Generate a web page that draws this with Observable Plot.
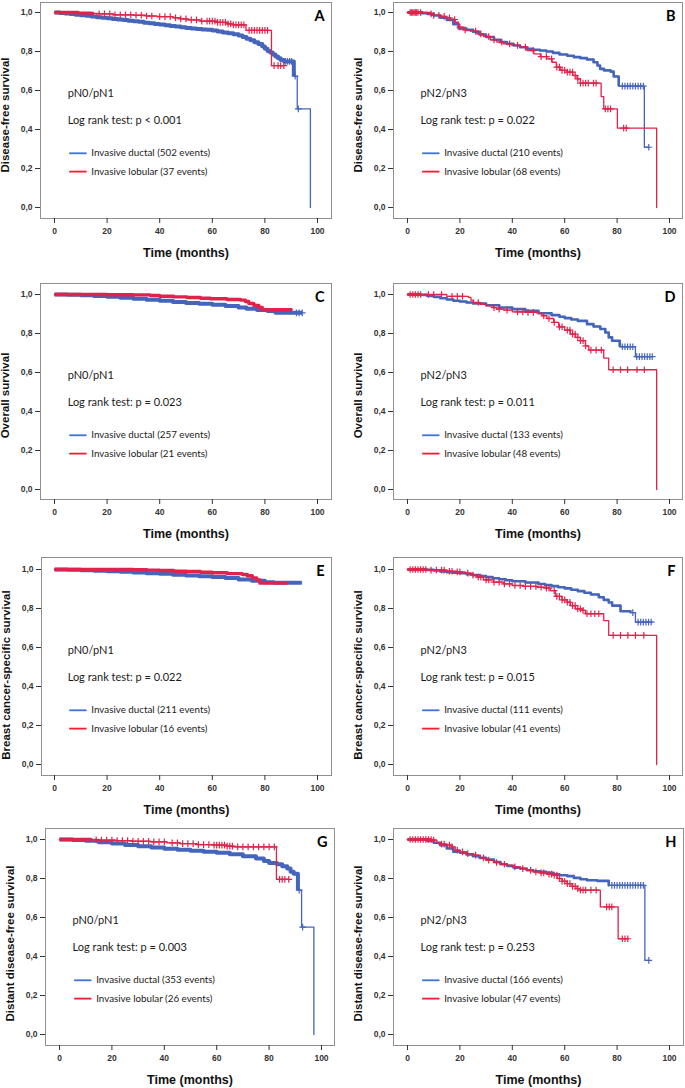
<!DOCTYPE html>
<html><head><meta charset="utf-8">
<script src="https://cdn.jsdelivr.net/npm/d3@7"></script>
<script src="https://cdn.jsdelivr.net/npm/@observablehq/plot@0.6"></script>
<style>
html,body{margin:0;padding:0;background:#fff;}
#page{position:relative;width:685px;height:1088px;overflow:hidden;background:#fff;}
.panel{position:absolute;}
.panel svg{display:block;overflow:visible;}
</style></head><body><div id="page"></div>
<script>
// ---------- texts ----------
const xTicks = [0, 20, 40, 60, 80, 100];
const yTicks = [0, 0.2, 0.4, 0.6, 0.8, 1.0];
const yTickLabels = ["0,0", "0,2", "0,4", "0,6", "0,8", "1,0"];
const xTitle = "Time (months)";
const panelLetters = ["A", "B", "C", "D", "E", "F", "G", "H"];
const yTitles = ["Disease-free survival", "Disease-free survival", "Overall survival", "Overall survival",
  "Breast cancer-specific survival", "Breast cancer-specific survival",
  "Distant disease-free survival", "Distant disease-free survival"];
const nodeGroups = ["pN0/pN1", "pN2/pN3", "pN0/pN1", "pN2/pN3", "pN0/pN1", "pN2/pN3", "pN0/pN1", "pN2/pN3"];
const logRankTexts = ["Log rank test: p < 0.001", "Log rank test: p = 0.022", "Log rank test: p = 0.023",
  "Log rank test: p = 0.011", "Log rank test: p = 0.022", "Log rank test: p = 0.015",
  "Log rank test: p = 0.003", "Log rank test: p = 0.253"];
const seriesNames = ["Invasive ductal", "Invasive lobular"];
const ductalEvents = [502, 210, 257, 133, 211, 111, 353, 166];
const lobularEvents = [37, 68, 21, 48, 16, 41, 26, 47];

// ---------- Kaplan-Meier steps: [time (months), survival] ----------
const ductalA = [[0,1],[2,0.998],[4,0.995],[6,0.992],[8,0.989],[10,0.986],[12,0.983],[14,0.979],[16,0.976],[18,0.973],[20,0.970],[22,0.967],[24,0.964],[26,0.961],[28,0.958],[30,0.955],[32,0.952],[34,0.948],[36,0.945],[38,0.941],[40,0.938],[42,0.935],[44,0.931],[46,0.928],[48,0.925],[50,0.921],[52,0.918],[54,0.916],[56,0.913],[58,0.911],[60,0.908],[62,0.903],[64,0.898],[66,0.893],[68,0.888],[70,0.882],[71.5,0.875],[73,0.866],[74.5,0.858],[76,0.848],[77.5,0.838],[79,0.826],[80,0.814],[81,0.803],[82,0.795],[83,0.785],[84,0.775],[85,0.765],[86,0.757],[87.3,0.749],[91,0.673],[92.3,0.506],[97.3,0]];
const lobularA = [[0,1],[9,0.997],[14,0.995],[17,0.993],[22.5,0.988],[30,0.986],[35,0.982],[39,0.979],[45,0.973],[48,0.967],[50.4,0.962],[55.5,0.956],[61.8,0.949],[65.6,0.942],[68,0.937],[72.8,0.908],[82.5,0.728],[87.2,0.728]];
const ductalB = [[0,1],[5,0.997],[7.5,0.993],[10,0.985],[12.5,0.973],[15,0.962],[17.5,0.94],[19.5,0.918],[22.5,0.911],[25,0.901],[27.5,0.887],[30,0.874],[33,0.86],[35.5,0.848],[38,0.839],[40.5,0.831],[43,0.822],[45.5,0.814],[48,0.809],[50.5,0.805],[53,0.8],[55.5,0.793],[58,0.785],[61,0.778],[63.5,0.771],[66,0.766],[68.5,0.759],[71,0.745],[72.5,0.728],[73.5,0.711],[75,0.703],[77.5,0.697],[78.7,0.672],[80.6,0.622],[90.4,0.309],[92.1,0.309]];
const lobularB = [[0,1],[8.7,0.993],[10,0.985],[12.5,0.98],[14.8,0.973],[16.3,0.964],[18.2,0.95],[19.5,0.925],[21.4,0.911],[24,0.904],[26.5,0.89],[29,0.877],[31.6,0.86],[34.1,0.848],[36.7,0.839],[39.9,0.831],[43,0.822],[45.6,0.805],[48.2,0.788],[50.7,0.774],[53.2,0.762],[55.2,0.745],[56.8,0.72],[58.3,0.703],[60.9,0.694],[63.1,0.677],[64.7,0.66],[66,0.638],[73.9,0.569],[74.9,0.506],[80.1,0.407],[95.1,0]];
const ductalC = [[0,1],[5,0.999],[10,0.996],[15,0.992],[20,0.988],[25,0.983],[30,0.978],[35,0.973],[40,0.968],[45,0.962],[50,0.957],[55,0.952],[60,0.947],[65,0.941],[70,0.933],[73,0.927],[77,0.92],[81,0.915],[84,0.906],[94.2,0.906]];
const lobularC = [[0,1],[20,0.999],[30,0.998],[36.4,0.995],[40,0.991],[45.3,0.988],[50.4,0.985],[55.5,0.981],[59.3,0.978],[65.6,0.974],[70.7,0.971],[72.6,0.964],[73.9,0.954],[75.8,0.944],[77.7,0.933],[79,0.922],[90.4,0.922]];
const ductalD = [[0,1],[5,0.998],[7.5,0.993],[10,0.988],[12.5,0.981],[15,0.974],[17.5,0.968],[20,0.964],[22.5,0.959],[25,0.954],[30,0.945],[35,0.933],[40,0.925],[45,0.916],[50,0.904],[55,0.894],[58,0.886],[60,0.879],[62.5,0.872],[65,0.865],[68.5,0.848],[71,0.836],[73.6,0.823],[75.5,0.805],[76.8,0.78],[78.1,0.763],[81,0.732],[87,0.681],[93.4,0.681]];
const lobularD = [[0,1],[15,0.99],[23.3,0.985],[24.2,0.971],[25.2,0.959],[27.8,0.95],[30,0.942],[32.9,0.933],[34.1,0.925],[36.7,0.92],[40,0.911],[45.6,0.908],[49.4,0.904],[51.3,0.891],[53.2,0.877],[55.8,0.857],[57.7,0.834],[60,0.817],[62.2,0.797],[64.1,0.78],[66,0.763],[67.9,0.737],[69.2,0.715],[74.9,0.674],[76.8,0.614],[95.1,0]];
const ductalE = [[0,1],[5,0.999],[10,0.996],[15,0.994],[20,0.991],[25,0.988],[30,0.985],[35,0.981],[40,0.978],[45,0.973],[50,0.969],[55,0.965],[60,0.961],[65,0.956],[70,0.949],[75,0.942],[80,0.935],[83.5,0.932],[94,0.932]];
const lobularE = [[0,1],[30,0.999],[35.2,0.997],[40,0.995],[45.4,0.991],[50.4,0.99],[55.5,0.986],[60,0.983],[65.7,0.979],[71.4,0.974],[73.3,0.968],[75.2,0.957],[76.9,0.947],[78.1,0.93],[88.6,0.93]];
const ductalF = [[0,1],[7.5,0.998],[10,0.995],[12.5,0.99],[15,0.986],[17.5,0.983],[20,0.981],[22.5,0.976],[25,0.971],[27.5,0.966],[30,0.961],[32.5,0.955],[35,0.95],[37.5,0.945],[40,0.94],[45,0.933],[50,0.926],[52.5,0.92],[55,0.915],[57.5,0.909],[60,0.903],[62.5,0.896],[65,0.889],[67.5,0.881],[70,0.872],[73,0.858],[74.9,0.844],[76.8,0.831],[78.1,0.815],[81.3,0.786],[85.1,0.779],[87,0.73],[93.4,0.73]];
const lobularF = [[0,1],[8,0.997],[15,0.991],[18.9,0.988],[22,0.981],[24.6,0.971],[26.5,0.961],[29,0.947],[32.9,0.935],[36.7,0.926],[40,0.918],[44.3,0.913],[49.4,0.909],[52.6,0.904],[54.5,0.892],[56.4,0.862],[59,0.844],[60.9,0.832],[62.2,0.815],[64.1,0.798],[66.6,0.79],[67.9,0.773],[74.9,0.738],[76.8,0.662],[95.1,0]];
const ductalG = [[0,1],[5,0.997],[10,0.993],[15,0.986],[20,0.979],[25,0.972],[30,0.966],[35,0.959],[40,0.952],[45,0.947],[50,0.942],[55,0.937],[60,0.932],[65,0.925],[70,0.914],[75,0.902],[78,0.89],[80,0.88],[83,0.873],[85,0.863],[86.9,0.851],[88.2,0.834],[89.4,0.825],[91,0.74],[92.4,0.551],[97.1,0]];
const lobularG = [[0,1],[12,0.998],[15.5,0.997],[22,0.994],[28,0.991],[34.6,0.988],[41,0.983],[46,0.979],[52.5,0.974],[58.9,0.971],[64,0.966],[66.5,0.962],[82.8,0.796],[87.5,0.796]];
const ductalH = [[0,1],[5,0.999],[7.5,0.993],[10,0.983],[12.5,0.971],[15,0.954],[17.5,0.937],[20,0.932],[22.5,0.923],[25,0.914],[27.5,0.906],[30,0.897],[33,0.885],[35.5,0.873],[38,0.865],[40.5,0.856],[43,0.851],[45.5,0.842],[48,0.837],[50.5,0.834],[53,0.829],[55.5,0.822],[58,0.817],[61,0.812],[63.5,0.803],[66,0.796],[68.5,0.791],[72.4,0.788],[76.8,0.765],[90.6,0.38],[92.1,0.38]];
const lobularH = [[0,1],[9.7,0.997],[11.2,0.983],[12.5,0.976],[15,0.971],[17,0.962],[18.2,0.945],[20,0.937],[22.7,0.928],[25.2,0.92],[27.8,0.906],[30.3,0.894],[32.9,0.882],[35.4,0.873],[38,0.868],[40,0.86],[43.1,0.851],[45.6,0.842],[48.2,0.834],[50.7,0.829],[53.2,0.822],[55.8,0.817],[57.1,0.8],[59,0.786],[60.9,0.774],[62.8,0.76],[64.7,0.748],[66,0.74],[73.6,0.654],[80.4,0.491],[84.1,0.491]];

// ---------- censored times (months) ----------
const ductalA_cens = [87.8, 88.6, 89.4, 90.2, 91.5, 92.7];
const lobularA_cens = [17,19,21,23,25,27,29,31,33,35,37,40,42,44,46,48,50,52,54,56,58,59,60,61,62,63,64,65,66,67,68,69,70,71,72,74,75,76,77,78,79,80,81,83.5,85,86,87.2];
const ductalB_cens = [82,83,84,85,86,87,88,89,90,92.1];
const lobularB_cens = [1,1.5,2,2.5,3,3.5,4,5,9,10,12,14,16,18,20,22,26,28,31,33,36,39,42,45,48,51,53,55,57,58,59,60,61,62,63,64,65,66,67,68,69,71,72,75.5,76.5,77.5,82.5,83.5];
const ductalC_cens = [92, 93, 94.2];
const lobularC_cens = [];
const ductalD_cens = [82,83,84,85,86,87.5,88.5,89.5,90.5,91.5,92.5,93.4];
const lobularD_cens = [1,2,3,4,5,8,10,13,17,19,21,27,33,35,38,42,44,46,48,52,54,56,58,59,61,62,63,64,65,66,67,68,70,72,74,78.5,81.3,84,87.6,90.4];
const ductalE_cens = [];
const lobularE_cens = [];
const ductalF_cens = [86,88,89,90,91,92,93];
const lobularF_cens = [1,2,3,4,5,6,7,9,11,13,14,16,17,19,20,23,25,27,28,30,31,33,35,37,39,41,43,45,47,49,51,53,54,56,57,58,59,60,61,62,63,64,65,66,67,68.5,70,71.5,73,78.5,81.3,84.1,87,90.2];
const ductalG_cens = [91.5, 92.8];
const lobularG_cens = [14,16,18,20,22,24,26,28,30,32,34,36,38,40,43,45,47,49,51,53,55,57,59,60,61,62,63,64,65,66,68,70,72,74,76,78,80,82,84,85,86,87.5];
const ductalH_cens = [78,79,80,81,82,83,84,85,86,87,88,89,90,92.1];
const lobularH_cens = [1,2,3,4,5,6,7,8,9,10,13,14,16,17,19,21,23,26,29,31,34,37,41,44,47,49,51,52,54,55,56,57,58,59,60,61,62,63,64,65,66,67,68,70,72,76,77,78,82,83,84.1];

const ductalCurves = [ductalA, ductalB, ductalC, ductalD, ductalE, ductalF, ductalG, ductalH];
const lobularCurves = [lobularA, lobularB, lobularC, lobularD, lobularE, lobularF, lobularG, lobularH];
const ductalCens = [ductalA_cens, ductalB_cens, ductalC_cens, ductalD_cens, ductalE_cens, ductalF_cens, ductalG_cens, ductalH_cens];
const lobularCens = [lobularA_cens, lobularB_cens, lobularC_cens, lobularD_cens, lobularE_cens, lobularF_cens, lobularG_cens, lobularH_cens];

// ---------- styling / layout ----------
const BLUE = "#4565bd", RED = "#e1234b";
const LEGEND_BLUE = "#3d72d8", LEGEND_RED = "#ef1d2f";
// dense-censoring band: [end time, stroke width]
const ductalBand = [[91,4],[80.6,2.6],[94.2,4],[81,2.6],[94,4],[85.1,2.6],[91,4],[77,2.6]];
const lobularBand = [[15,3.4],[6,3],[90.4,3.4],[5,3],[88.6,3.4],[7,3],[12,3.4],[9,3]];
const layouts = [
 {left:0,top:0,w:340,h:270, fx0:40,fx1:331,fy0:2,fy1:218, px0:54,px100:317,py1:12,py0:207, labelDy:4.5},
 {left:340,top:0,w:345,h:270, fx0:393,fx1:682,fy0:2,fy1:218, px0:407,px100:669,py1:12,py0:207, labelDy:4.5},
 {left:0,top:270,w:340,h:270, fx0:40,fx1:331,fy0:283,fy1:499, px0:54,px100:317,py1:294,py0:489, labelDy:4},
 {left:340,top:270,w:345,h:270, fx0:393,fx1:682,fy0:283,fy1:499, px0:407,px100:669,py1:294,py0:489, labelDy:4},
 {left:0,top:540,w:340,h:270, fx0:41,fx1:331,fy0:557,fy1:775, px0:54,px100:317,py1:569,py0:764, labelDy:8.5},
 {left:340,top:540,w:345,h:270, fx0:393,fx1:682,fy0:557,fy1:775, px0:407,px100:669,py1:569,py0:764, labelDy:8.5},
 {left:0,top:810,w:340,h:278, fx0:45,fx1:334,fy0:828,fy1:1045, px0:59,px100:321,py1:839,py0:1034, labelDy:6.5},
 {left:340,top:810,w:345,h:278, fx0:393,fx1:683,fy0:828,fy1:1045, px0:407,px100:669,py1:839,py0:1034, labelDy:6.5}
];
const ANN_FONT = "Lato, 'Open Sans', sans-serif";
const AX_FONT = "'Liberation Sans', Arial, sans-serif";

function survivalAt(curve, t) {
  let s = curve[0][1];
  for (const [ti, si] of curve) { if (ti <= t) s = si; else break; }
  return s;
}
function bandOf(curve, end) {
  const pts = curve.filter(p => p[0] <= end);
  pts.push([end, survivalAt(curve, end)]);
  return pts;
}
function curveMarks(curve, cens, band, color) {
  const pts = curve.map(([t, s]) => ({t, s}));
  const bandPts = bandOf(curve, band[0]).map(([t, s]) => ({t, s}));
  const censPts = cens.map(t => ({t, s: survivalAt(curve, t)}));
  return [
    Plot.line(pts, {x: "t", y: "s", curve: "step-after", stroke: color, strokeWidth: 1.3}),
    Plot.line(bandPts, {x: "t", y: "s", curve: "step-after", stroke: color, strokeWidth: band[1], strokeLinecap: "butt"}),
    Plot.dot(censPts, {x: "t", y: "s", symbol: "plus", r: 2.3, stroke: color, strokeWidth: 1.2})
  ];
}

const page = document.getElementById("page");
for (let i = 0; i < 8; i++) {
  const L = layouts[i];
  const kx = (L.px100 - L.px0) / 100, ky = L.py0 - L.py1;
  const xDomain = [(L.fx0 - L.px0) / kx, 100 + (L.fx1 - L.px100) / kx];
  const yDomain = [-(L.fy1 - L.py0) / ky, 1 + (L.py1 - L.fy0) / ky];
  const annotations = [
    {t: 5, s: 0.566, label: nodeGroups[i]},
    {t: 5, s: 0.43, label: logRankTexts[i]}
  ];
  const legend = [
    {x1: 5.6, x2: 12.2, y: 0.278, color: LEGEND_BLUE, label: `${seriesNames[0]} (${ductalEvents[i]} events)`},
    {x1: 5.6, x2: 12.2, y: 0.184, color: LEGEND_RED, label: `${seriesNames[1]} (${lobularEvents[i]} events)`}
  ];
  const svg = Plot.plot({
    width: L.w, height: L.h,
    marginLeft: L.fx0 - L.left, marginRight: L.left + L.w - L.fx1,
    marginTop: L.fy0 - L.top, marginBottom: L.top + L.h - L.fy1,
    x: {domain: xDomain},
    y: {domain: yDomain},
    style: {fontFamily: AX_FONT, background: "transparent", color: "#222", overflow: "visible"},
    marks: [
      Plot.frame({stroke: "#8f8f8f"}),
      Plot.axisX({ticks: xTicks, tickSize: 5, tickPadding: 4, tickFormat: d => String(d), fontSize: 8.5, fontWeight: "bold", color: "#333", label: null}),
      Plot.axisY({ticks: yTicks, tickSize: 5, tickPadding: 3, tickFormat: d => yTickLabels[yTicks.indexOf(d)], fontSize: 8.5, fontWeight: "bold", color: "#333", label: null}),
      ...curveMarks(ductalCurves[i], ductalCens[i], ductalBand[i], BLUE),
      ...curveMarks(lobularCurves[i], lobularCens[i], lobularBand[i], RED),
      Plot.text(annotations, {x: "t", y: "s", text: "label", textAnchor: "start", lineAnchor: "bottom", fontSize: 11, fontFamily: ANN_FONT, fill: "#1a1a1a"}),
      Plot.link(legend, {x1: "x1", x2: "x2", y1: "y", y2: "y", stroke: "color", strokeWidth: 1.8}),
      Plot.text(legend, {x: 14, y: "y", text: "label", textAnchor: "start", lineAnchor: "middle", fontSize: 9.8, fontFamily: ANN_FONT, fill: "#1a1a1a"}),
      Plot.text([panelLetters[i]], {text: d => d, frameAnchor: "top-right", dx: -7, dy: 18, textAnchor: "end", lineAnchor: "bottom", fontSize: 14.5, fontWeight: "bold", fontFamily: ANN_FONT, fill: "#000"}),
      Plot.text([yTitles[i]], {text: d => d, frameAnchor: "left", dx: -35, dy: L.labelDy, rotate: -90, textAnchor: "middle", lineAnchor: "middle", fontSize: 11.5, fontWeight: "bold", fontFamily: AX_FONT, fill: "#111"}),
      Plot.text([xTitle], {text: d => d, frameAnchor: "bottom", dy: 34, textAnchor: "middle", lineAnchor: "middle", fontSize: 12.5, fontWeight: "bold", fontFamily: AX_FONT, fill: "#111"})
    ]
  });
  const div = document.createElement("div");
  div.className = "panel";
  div.style.left = L.left + "px";
  div.style.top = L.top + "px";
  div.appendChild(svg);
  page.appendChild(div);
}
</script></body></html>
